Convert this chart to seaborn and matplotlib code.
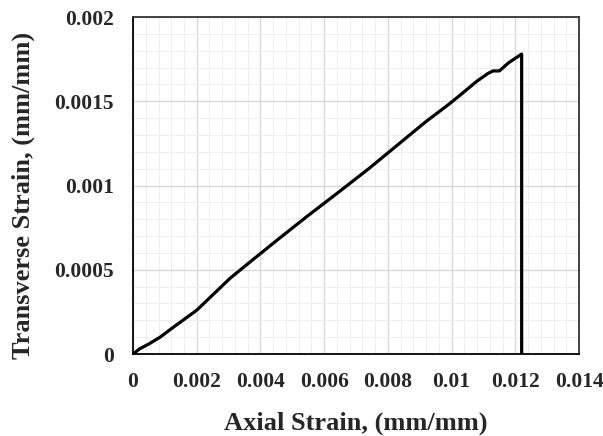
import numpy as np
import pandas as pd
import seaborn as sns
import matplotlib
matplotlib.use("Agg")
import matplotlib.pyplot as plt
from matplotlib.ticker import MultipleLocator, FuncFormatter

# Measured strain record (axial vs. transverse), ending with rupture drop
axial_strain = [0, 0.0002, 0.0005, 0.00085, 0.0012, 0.0016, 0.002, 0.00305,
                0.0036, 0.00455, 0.00545, 0.00645, 0.0074, 0.0083, 0.0092,
                0.0099, 0.01026, 0.0108, 0.01115, 0.0113, 0.01145, 0.0115,
                0.0118, 0.0122, 0.0122]
transverse_strain = [0, 0.00003, 0.00006, 0.0001, 0.00015, 0.000205, 0.00026,
                     0.00045, 0.000535, 0.00068, 0.000815, 0.00096, 0.0011,
                     0.00124, 0.00138, 0.00148, 0.001535, 0.00162, 0.001666,
                     0.00168, 0.00168, 0.00168, 0.00173, 0.00178, 0]

x_ticks = [0, 0.002, 0.004, 0.006, 0.008, 0.01, 0.012, 0.014]
y_ticks = [0, 0.0005, 0.001, 0.0015, 0.002]

sns.set_style("white")
plt.rcParams['font.family'] = ['Liberation Serif', 'DejaVu Serif']
plt.rcParams['font.weight'] = 'bold'

df = pd.DataFrame({"axial": axial_strain, "transverse": transverse_strain})

fig = plt.figure(figsize=(6.03, 4.36), dpi=100)
ax = fig.add_axes([0.2206, 0.188, 0.7396, 0.773])

sns.lineplot(data=df, x="axial", y="transverse", sort=False, estimator=None,
             color="black", linewidth=2.3, ax=ax, zorder=3)

ax.set_xlim(0, 0.014)
ax.set_ylim(0, 0.002)
ax.set_xticks(x_ticks)
ax.set_yticks(y_ticks)
ax.xaxis.set_minor_locator(MultipleLocator(0.0004))
ax.yaxis.set_minor_locator(MultipleLocator(0.0001))

fmt = FuncFormatter(lambda v, p: "0" if v == 0 else f"{v:g}")
ax.xaxis.set_major_formatter(fmt)
ax.yaxis.set_major_formatter(fmt)

ax.grid(which="major", color="#d8d8d8", linewidth=1.0, zorder=0)
ax.grid(which="minor", color="#eeeeee", linewidth=0.8, zorder=0)
ax.set_axisbelow(True)

ax.tick_params(axis="both", which="major", direction="in", length=5,
               width=1.2, labelsize=15.5, color="black")
ax.tick_params(axis="x", which="major", pad=13)
ax.tick_params(axis="y", which="major", pad=14)
ax.tick_params(axis="both", which="minor", length=0)
for lbl in ax.get_xticklabels() + ax.get_yticklabels():
    lbl.set_fontweight("bold")

for side in ["left", "bottom", "top", "right"]:
    ax.spines[side].set_visible(True)
    ax.spines[side].set_color("black")
    ax.spines[side].set_linewidth(1.3)
ax.spines["top"].set_color("#333333")
ax.spines["right"].set_color("#333333")

ax.set_xlabel("Axial Strain, (mm/mm)", fontsize=19, fontweight="bold", va="center")
ax.set_ylabel("Transverse Strain, (mm/mm)", fontsize=19, fontweight="bold", va="center")
ax.xaxis.set_label_coords(0.499, -0.205)
ax.yaxis.set_label_coords(-0.247, 0.47)

fig.savefig("out.png", dpi=100)
